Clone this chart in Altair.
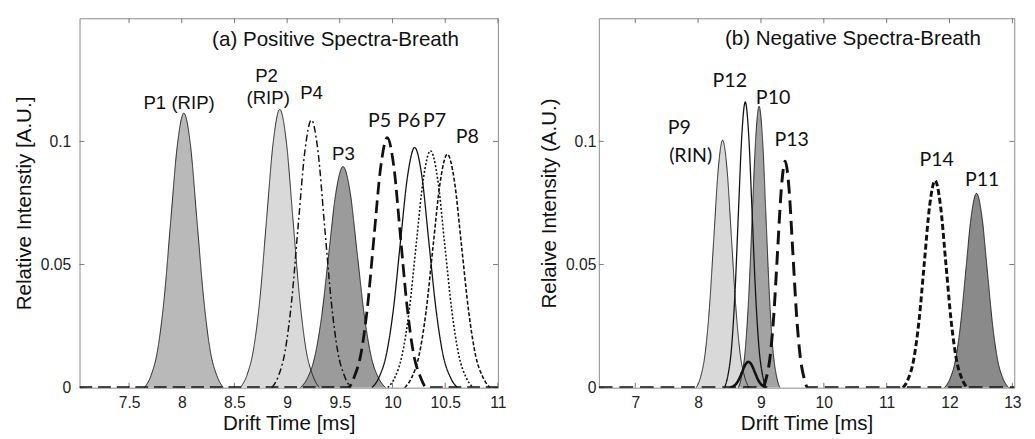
import altair as alt
import pandas as pd

# ---------------- (a) Positive spectra ----------------
P1_x = [7.645, 7.708, 7.77, 7.833, 7.895, 7.958, 8.02, 8.083, 8.145, 8.208, 8.27, 8.333, 8.395]
P1_y = [0, 0.0049, 0.0151, 0.0362, 0.0676, 0.0984, 0.1115, 0.0984, 0.0676, 0.0362, 0.0151, 0.0049, 0]
P2_x = [8.555, 8.618, 8.68, 8.743, 8.805, 8.868, 8.93, 8.993, 9.055, 9.118, 9.18, 9.243, 9.305]
P2_y = [0, 0.005, 0.0153, 0.0367, 0.0685, 0.0997, 0.113, 0.0997, 0.0685, 0.0367, 0.0153, 0.005, 0]
P3_x = [9.125, 9.193, 9.26, 9.328, 9.395, 9.463, 9.53, 9.598, 9.665, 9.733, 9.8, 9.868, 9.935]
P3_y = [0, 0.0039, 0.0122, 0.0292, 0.0545, 0.0793, 0.0898, 0.0793, 0.0545, 0.0292, 0.0122, 0.0039, 0]
P4_x = [8.855, 8.918, 8.98, 9.043, 9.105, 9.168, 9.23, 9.293, 9.355, 9.418, 9.48, 9.543, 9.605]
P4_y = [0, 0.0048, 0.0147, 0.0353, 0.0659, 0.0959, 0.1087, 0.0959, 0.0659, 0.0353, 0.0147, 0.0048, 0]
P5_x = [7.03, 9.575, 9.638, 9.7, 9.763, 9.825, 9.888, 9.95, 10.013, 10.075, 10.138, 10.2, 10.263, 10.325, 11.0]
P5_y = [0, 0, 0.0045, 0.0137, 0.033, 0.0616, 0.0896, 0.1015, 0.0896, 0.0616, 0.033, 0.0137, 0.0045, 0, 0]
P6_x = [9.805, 9.873, 9.94, 10.008, 10.075, 10.143, 10.21, 10.278, 10.345, 10.413, 10.48, 10.548, 10.615]
P6_y = [0, 0.0043, 0.0132, 0.0317, 0.0591, 0.086, 0.0975, 0.086, 0.0591, 0.0317, 0.0132, 0.0043, 0]
P7_x = [9.955, 10.023, 10.09, 10.158, 10.225, 10.293, 10.36, 10.428, 10.495, 10.563, 10.63, 10.698, 10.765]
P7_y = [0, 0.0042, 0.013, 0.0312, 0.0583, 0.0849, 0.0962, 0.0849, 0.0583, 0.0312, 0.013, 0.0042, 0]
P8_x = [10.115, 10.183, 10.25, 10.318, 10.385, 10.453, 10.52, 10.588, 10.655, 10.723, 10.79, 10.858, 10.925]
P8_y = [0, 0.0042, 0.0128, 0.0308, 0.0575, 0.0837, 0.0948, 0.0837, 0.0575, 0.0308, 0.0128, 0.0042, 0]

# ---------------- (b) Negative spectra ----------------
P9_x = [7.97, 8.04, 8.11, 8.18, 8.25, 8.32, 8.39, 8.46, 8.53, 8.6, 8.67, 8.74, 8.81]
P9_y = [0, 0.0044, 0.0136, 0.0326, 0.061, 0.0887, 0.1005, 0.0887, 0.061, 0.0326, 0.0136, 0.0044, 0]
P12_x = [8.42, 8.475, 8.53, 8.585, 8.64, 8.695, 8.75, 8.805, 8.86, 8.915, 8.97, 9.025, 9.08]
P12_y = [0, 0.0051, 0.0157, 0.0377, 0.0704, 0.1024, 0.116, 0.1024, 0.0704, 0.0377, 0.0157, 0.0051, 0]
P10_x = [8.64, 8.695, 8.75, 8.805, 8.86, 8.915, 8.97, 9.025, 9.08, 9.135, 9.19, 9.245, 9.3]
P10_y = [0, 0.005, 0.0155, 0.0371, 0.0693, 0.1009, 0.1143, 0.1009, 0.0693, 0.0371, 0.0155, 0.005, 0]
Bump_x = [8.5, 8.6, 8.65, 8.7, 8.75, 8.8, 8.85, 8.9, 8.95, 9.0, 9.1]
Bump_y = [0, 0.0014, 0.0034, 0.0064, 0.0093, 0.0105, 0.0093, 0.0064, 0.0034, 0.0014, 0]
P13_x = [6.42, 9.025, 9.085, 9.145, 9.205, 9.265, 9.325, 9.385, 9.445, 9.505, 9.565, 9.625, 9.685, 9.745, 13.03]
P13_y = [0, 0, 0.004, 0.0125, 0.0299, 0.0558, 0.0812, 0.092, 0.0812, 0.0558, 0.0299, 0.0125, 0.004, 0, 0]
P14_x = [11.26, 11.345, 11.43, 11.515, 11.6, 11.685, 11.77, 11.855, 11.94, 12.025, 12.11, 12.195, 12.28]
P14_y = [0, 0.0037, 0.0114, 0.0273, 0.051, 0.0742, 0.0841, 0.0742, 0.051, 0.0273, 0.0114, 0.0037, 0]
P11_x = [11.92, 12.005, 12.09, 12.175, 12.26, 12.345, 12.43, 12.515, 12.6, 12.685, 12.77, 12.855, 12.94]
P11_y = [0, 0.0035, 0.0107, 0.0256, 0.0479, 0.0696, 0.0789, 0.0696, 0.0479, 0.0256, 0.0107, 0.0035, 0]

# ---------------- labels ----------------
left_title = ["(a) Positive Spectra-Breath"]
left_title_x = [8.288]
left_title_y = [0.1412]
left_lab_a = ["P1 (RIP)", "P2", "(RIP)", "P4", "P3"]
left_lab_a_x = [7.975, 8.805, 8.82, 9.232, 9.534]
left_lab_a_y = [0.1155, 0.1267, 0.1174, 0.1198, 0.0947]
left_lab_b = ["P5", "P6", "P7", "P8"]
left_lab_b_x = [9.876, 10.155, 10.40, 10.71]
left_lab_b_y = [0.1082, 0.1082, 0.1082, 0.1018]

right_title = ["(b) Negative Spectra-Breath"]
right_title_x = [8.426]
right_title_y = [0.1417]
right_lab = ["P12", "P10", "P9", "(RIN)", "P13", "P14", "P11"]
right_lab_x = [8.504, 9.193, 7.70, 7.882, 9.488, 11.795, 12.52]
right_lab_y = [0.1243, 0.1177, 0.1054, 0.0939, 0.1004, 0.0925, 0.0844]

left_xticks = [7.5, 8, 8.5, 9, 9.5, 10, 10.5, 11]
right_xticks = [7, 8, 9, 10, 11, 12, 13]
yticks = [0, 0.05, 0.1]

LEFT_DOMAIN = [7.03, 11.0]
RIGHT_DOMAIN = [6.42, 13.03]
Y_DOMAIN = [0, 0.15]

W_L, W_R, H = 427, 424, 377
FONT = "Liberation Sans"
FONT2 = "Lato"


def panel(fills, lines, xdom, xticks, width, ytitle, lab_pad, title_pad, titles, labs_a, labs_b):
    xaxis = alt.Axis(values=xticks, labelExpr="datum.value + ''", title="Drift Time [ms]",
                     ticks=False, domain=False, grid=False, labelFont=FONT, labelFontSize=16,
                     labelColor="#222", titleFont=FONT, titleFontSize=21, titleFontWeight="normal",
                     titleColor="#111", labelPadding=7, titlePadding=3, labelFlush=False)
    yaxis = alt.Axis(values=yticks, labelExpr="datum.value + ''", title=ytitle,
                     ticks=False, domain=False, grid=False, labelFont=FONT, labelFontSize=16,
                     labelColor="#222", titleFont=FONT, titleFontSize=21, titleFontWeight="normal",
                     titleColor="#111", labelPadding=lab_pad, titlePadding=title_pad, labelFlush=False)
    X = alt.X("x:Q", scale=alt.Scale(domain=xdom, nice=False, zero=False), axis=xaxis)
    Y = alt.Y("y:Q", scale=alt.Scale(domain=Y_DOMAIN, nice=False, zero=False), axis=yaxis)

    layers = []
    # frame ticks (inward), also carries the axes
    xt = pd.DataFrame({"x": xticks})
    yt = pd.DataFrame({"y": yticks})
    tick_style = dict(color="#777", strokeWidth=1)
    layers.append(alt.Chart(xt).mark_rule(**tick_style).encode(x=X, y=alt.value(0), y2=alt.value(5)))
    layers.append(alt.Chart(xt).mark_rule(**tick_style).encode(x=X, y=alt.value(H), y2=alt.value(H - 5)))
    layers.append(alt.Chart(yt).mark_rule(**tick_style).encode(y=Y, x=alt.value(0), x2=alt.value(5)))
    layers.append(alt.Chart(yt).mark_rule(**tick_style).encode(y=Y, x=alt.value(width), x2=alt.value(width - 5)))

    for xs, ys, col in fills:
        d = pd.DataFrame({"x": xs, "y": ys})
        layers.append(alt.Chart(d).mark_area(interpolate="monotone", color=col, opacity=1, clip=True)
                      .encode(x=X, y=alt.Y("y:Q", scale=alt.Scale(domain=Y_DOMAIN, nice=False, zero=False),
                                           axis=yaxis, stack=None)))
    for xs, ys, dash, sw in lines:
        d = pd.DataFrame({"x": xs, "y": ys})
        layers.append(alt.Chart(d).mark_line(interpolate="monotone", color="#111", strokeDash=dash,
                                             strokeWidth=sw, clip=True).encode(x=X, y=Y))

    tdf = pd.DataFrame({"label": titles[0], "x": titles[1], "y": titles[2]})
    layers.append(alt.Chart(tdf).mark_text(font=FONT, fontSize=21, align="left", baseline="middle",
                                           color="#111").encode(x=X, y=Y, text="label:N"))
    if labs_a is not None:
        adf = pd.DataFrame({"label": labs_a[0], "x": labs_a[1], "y": labs_a[2]})
        layers.append(alt.Chart(adf).mark_text(font=FONT, fontSize=19, align="center", baseline="middle",
                                               color="#111").encode(x=X, y=Y, text="label:N"))
    if labs_b is not None:
        bdf = pd.DataFrame({"label": labs_b[0], "x": labs_b[1], "y": labs_b[2]})
        layers.append(alt.Chart(bdf).mark_text(font=FONT2, fontSize=20, align="center", baseline="middle",
                                               color="#111").encode(x=X, y=Y, text="label:N"))
    return alt.layer(*layers).properties(width=width, height=H)


left = panel(
    [(P1_x, P1_y, "#b9b9b9"), (P2_x, P2_y, "#d9d9d9"), (P3_x, P3_y, "#9b9b9b")],
    [(P1_x, P1_y, [1, 0], 0.9), (P2_x, P2_y, [1, 0], 0.9), (P3_x, P3_y, [1, 0], 0.9),
     (P4_x, P4_y, [7, 3, 2, 3], 1.5), (P5_x, P5_y, [13, 6], 2.8), (P6_x, P6_y, [1, 0], 1.3),
     (P7_x, P7_y, [2, 2], 1.6), (P8_x, P8_y, [4, 2], 1.6)],
    LEFT_DOMAIN, left_xticks, W_L, "Relative Intenstiy [A.U.]", 9, 6,
    (left_title, left_title_x, left_title_y),
    (left_lab_a, left_lab_a_x, left_lab_a_y),
    (left_lab_b, left_lab_b_x, left_lab_b_y),
)

right = panel(
    [(P9_x, P9_y, "#d9d9d9"), (P10_x, P10_y, "#a3a3a3"), (P11_x, P11_y, "#8a8a8a")],
    [(P9_x, P9_y, [1, 0], 0.9), (P10_x, P10_y, [1, 0], 0.9), (P11_x, P11_y, [1, 0], 0.9),
     (P12_x, P12_y, [1, 0], 1.3), (Bump_x, Bump_y, [1, 0], 2.6), (P13_x, P13_y, [14, 7], 3.0),
     (P14_x, P14_y, [6, 3], 3.0)],
    RIGHT_DOMAIN, right_xticks, W_R, "Relaive Intensity (A.U.)", 3, 6,
    (right_title, right_title_x, right_title_y),
    None,
    (right_lab, right_lab_x, right_lab_y),
)

chart = alt.hconcat(left, right, spacing=32).resolve_scale(x="independent", y="independent").configure_view(
    stroke="#888", strokeWidth=1
).properties(background="white")

chart.save("out.html", embed_options={"renderer": "svg", "actions": False})
